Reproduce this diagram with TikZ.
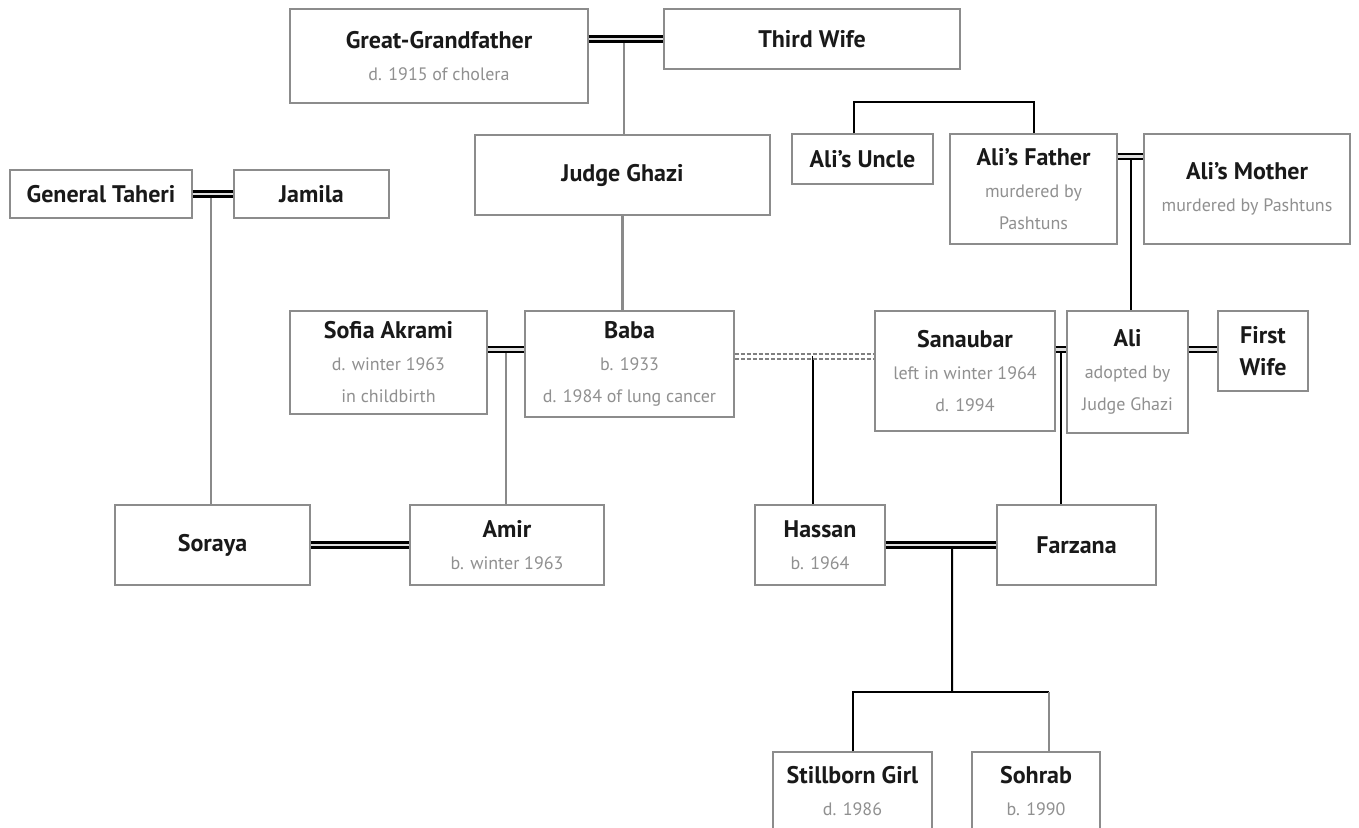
\documentclass[tikz,border=0pt]{standalone}
\usepackage{fontspec}
\setmainfont{PT Sans}
\usetikzlibrary{calc}
\definecolor{boxgray}{HTML}{8C8C8C}
\definecolor{subgray}{HTML}{909090}
\definecolor{linegray}{HTML}{8A8A8A}
\newcommand{\nm}[1]{{\color{black!90}\bfseries\fontsize{12}{16}\selectfont #1}}
\tikzset{
  person/.style={draw=boxgray, line width=0.6pt, fill=white, inner sep=0pt, align=center,
    text=subgray, font=\fontsize{9}{16}\selectfont},
  desc/.style={draw=linegray, line width=1.1pt},
  blk/.style={draw=black, line width=1pt},
  marry/.style={draw=black, line width=1.1pt, double=gray!25, double distance=1.4pt},
  affair/.style={draw=gray, line width=0.9pt, double=white, double distance=1.4pt, dash pattern=on 2pt off 1pt}
}
\begin{document}
\begin{tikzpicture}[x=0.5pt,y=-0.5pt]
\useasboundingbox (0,0) rectangle (1359,828);
\clip (0,0) rectangle (1359,828);

% nodes
\node[person, minimum width=149pt, minimum height=47pt]   (gg)      at (439,56)     {\nm{Great-Grandfather}\\d. 1915 of cholera};
\node[person, minimum width=148pt, minimum height=30pt]   (tw)      at (812,39)     {\nm{Third Wife}};
\node[person, minimum width=70.5pt, minimum height=25pt]  (uncle)   at (862.5,159)  {\nm{Ali's Uncle}};
\node[person, minimum width=83.5pt, minimum height=55pt]  (father)  at (1033.5,189) {\nm{Ali's Father}\\murdered by\\Pashtuns};
\node[person, minimum width=103pt, minimum height=55pt]   (mother)  at (1247,189)   {\nm{Ali's Mother}\\murdered by Pashtuns};
\node[person, minimum width=91pt, minimum height=24pt]    (taheri)  at (101,194)    {\nm{General Taheri}};
\node[person, minimum width=77.5pt, minimum height=24pt]  (jamila)  at (311.5,194)  {\nm{Jamila}};
\node[person, minimum width=147.5pt, minimum height=40pt] (judge)   at (622.5,175)  {\nm{Judge Ghazi}};
\node[person, minimum width=98.5pt, minimum height=51.5pt](sofia)   at (388.5,362.5){\nm{Sofia Akrami}\\d. winter 1963\\in childbirth};
\node[person, minimum width=104.5pt, minimum height=53pt] (baba)    at (629.5,364)  {\nm{Baba}\\b. 1933\\d. 1984 of lung cancer};
\node[person, minimum width=90pt, minimum height=60pt]    (san)     at (965,371)    {\nm{Sanaubar}\\left in winter 1964\\d. 1994};
\node[person, minimum width=60.5pt, minimum height=61pt]  (ali)     at (1127.5,372) {\nm{Ali}\\adopted by\\Judge Ghazi};
\node[person, minimum width=45pt, minimum height=40pt]    (first)   at (1263,351)   {\nm{First}\\\nm{Wife}};
\node[person, minimum width=97.5pt, minimum height=40pt]  (soraya)  at (212.5,545)  {\nm{Soraya}};
\node[person, minimum width=97pt, minimum height=40pt]    (amir)    at (507,545)    {\nm{Amir}\\b. winter 1963};
\node[person, minimum width=65pt, minimum height=40pt]    (hassan)  at (820,545)    {\nm{Hassan}\\b. 1964};
\node[person, minimum width=79.5pt, minimum height=40pt]  (farzana) at (1076.5,545) {\nm{Farzana}};
\node[person, minimum width=79.5pt, minimum height=39pt]  (still)   at (852.5,791)  {\nm{Stillborn Girl}\\d. 1986};
\node[person, minimum width=64pt, minimum height=39pt]    (sohrab)  at (1036,791)   {\nm{Sohrab}\\b. 1990};

% anchor points of couple lines
\coordinate (c1a) at (tw.west -| gg.east);
\coordinate (c2a) at ($(father.north east)+(0,23)$);
\coordinate (c4a) at ($(sofia.north east)+(0,39)$);
\coordinate (c5a) at ($(baba.north east)+(0,46)$);
\coordinate (c6a) at ($(san.north east)+(0,39)$);
\coordinate (c7a) at ($(ali.north east)+(0,39)$);

\coordinate (m1) at ($(c1a)!0.47!(tw.west)$);
\coordinate (m2) at ($(taheri.east)!0.45!(jamila.west)$);
\coordinate (m3) at ($(c4a)!0.5!(c4a -| baba.west)$);
\coordinate (m4) at ($(c5a)!0.56!(c5a -| san.west)$);
\coordinate (m5) at ($(c6a)!0.5!(c6a -| ali.west)$);
\coordinate (m6) at ($(c2a)!0.5!(c2a -| mother.west)$);
\coordinate (m7) at ($(hassan.east)!0.6!(farzana.west)$);
\coordinate (bar) at (952,692);
\coordinate (sohtop) at (1049,692);

% descent lines
\draw[desc] (m1) -- (m1 |- judge.north);
\draw[desc] (judge.south) -- (judge.south |- baba.north);
\draw[desc] (m2) -- (m2 |- soraya.north);
\draw[desc] (m3) -- (m3 |- amir.north);
\draw[blk]  (m4) -- (m4 |- hassan.north);
\draw[blk]  (m5) -- (m5 |- farzana.north);
\draw[blk]  (m6) -- (m6 |- ali.north);
\draw[blk]  ([xshift=-4.5pt]uncle.north) -- ++(0,-31) -| (father.north);
\draw[blk]  (m7) -- (bar);
\draw[blk]  (still.north) |- (bar) -- (sohtop);
\draw[desc] (sohtop) -- (sohtop |- sohrab.north);

% couple lines
\draw[marry] (c1a) -- (tw.west);
\draw[marry] (c2a) -- (c2a -| mother.west);
\draw[marry] (taheri.east) -- (jamila.west);
\draw[marry] (c4a) -- (c4a -| baba.west);
\draw[affair] (c5a) -- (c5a -| san.west);
\draw[marry] (c6a) -- (c6a -| ali.west);
\draw[marry] (c7a) -- (c7a -| first.west);
\draw[marry] (soraya.east) -- (amir.west);
\draw[marry] (hassan.east) -- (farzana.west);
\end{tikzpicture}
\end{document}
